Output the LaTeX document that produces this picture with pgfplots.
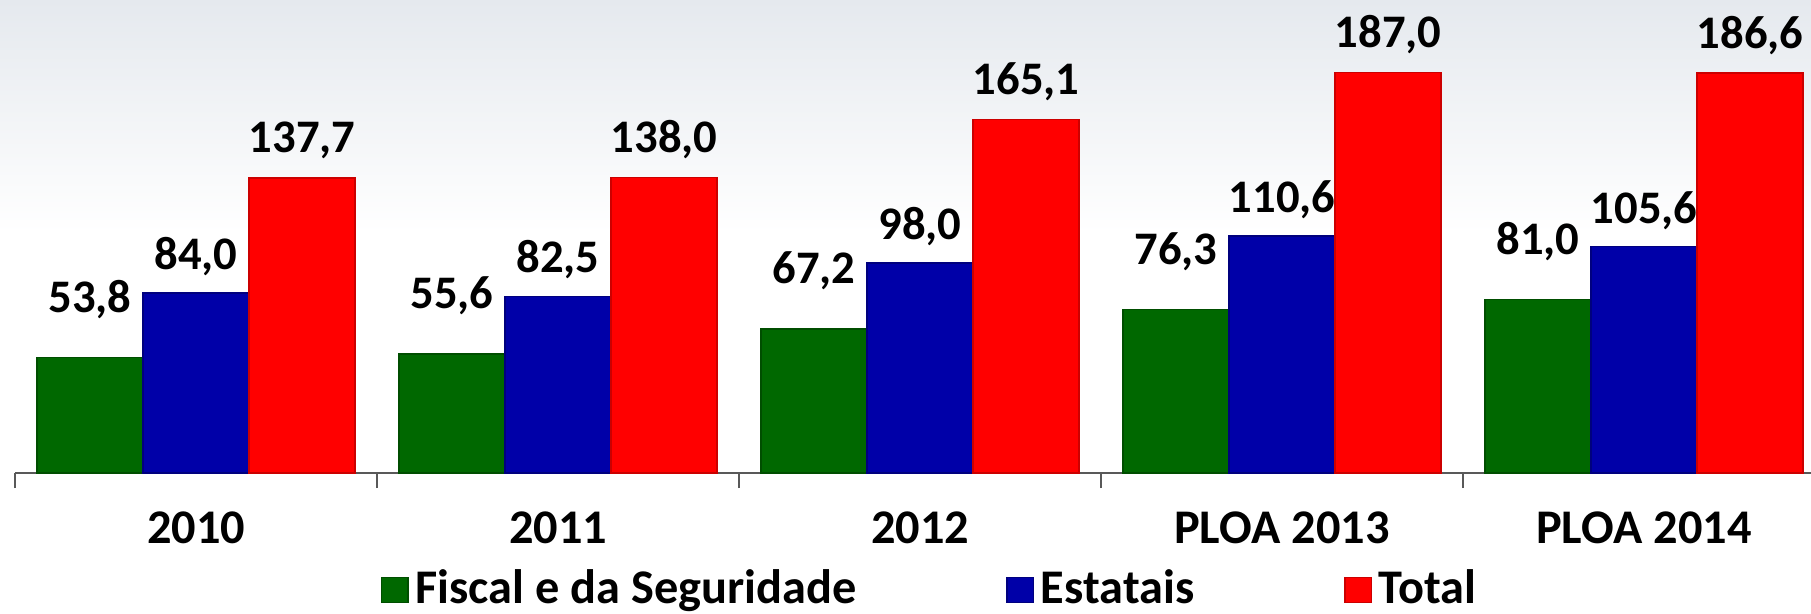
\documentclass[border=0pt]{standalone}
\usepackage{pgfplots}
\pgfplotsset{compat=1.18}
\usepackage{fontspec}
\setmainfont{Carlito}

\definecolor{fiscal}{RGB}{0,104,0}
\definecolor{estatais}{RGB}{0,0,168}
\definecolor{total}{RGB}{255,0,0}
\definecolor{bgtop}{RGB}{229,233,238}

\begin{document}
\begin{tikzpicture}
\useasboundingbox (-4.5bp,-42bp) rectangle (538.8bp,141.9bp);
\clip (-4.5bp,-42bp) rectangle (538.8bp,141.9bp);
\shade[top color=bgtop, bottom color=white] (-4.5bp,72bp) rectangle (538.8bp,141.9bp);
\begin{axis}[
    at={(0,0)}, anchor=south west,
    scale only axis, width=543bp, height=141.9bp,
    xmin=-0.5, xmax=4.5, ymin=0, ymax=220.7,
    enlargelimits=false,
    ybar, bar width=31.8bp,
    axis x line=bottom, axis y line=none,
    x axis line style={-, draw=black!65, line width=0.8bp},
    xtick={0,...,4},
    xticklabels={2010,2011,2012,PLOA 2013,PLOA 2014},
    major tick length=0pt,
    minor xtick={-0.5,0.5,...,4.5},
    minor tick length=4.5bp,
    tick align=outside,
    minor tick style={draw=black!65, line width=0.8bp},
    xticklabel style={font=\bfseries\fontsize{14.5bp}{16bp}\selectfont, yshift=-8bp},
    nodes near coords,
    every node near coord/.append style={font=\bfseries\fontsize{14bp}{16bp}\selectfont,
        anchor=base, inner sep=0pt, text=black},
    /pgf/number format/assume math mode=true,
    /pgf/number format/fixed,
    /pgf/number format/fixed zerofill,
    /pgf/number format/precision=1,
    /pgf/number format/use comma,
    legend columns=3,
    legend style={at={(0.5066,-0.246)}, anchor=center, draw=none, fill=none,
        font=\bfseries\fontsize{14.5bp}{16bp}\selectfont,
        /tikz/every even column/.append style={column sep=43bp}},
    legend image code/.code={\draw[#1] (0bp,-4bp) rectangle (8bp,3.5bp);},
]
% Fiscal e da Seguridade
\addplot[fill=fiscal, draw=fiscal!75!black, bar shift=-31.8bp,
    every node near coord/.append style={yshift=13.5bp}] coordinates {
    (0,53.8) (1,55.6) (2,67.2) (3,76.3) (4,81.0)
};
\addlegendentry{Fiscal e da Seguridade}
% Estatais
\addplot[fill=estatais, draw=estatais!75!black, bar shift=0bp,
    every node near coord/.append style={yshift=7bp}] coordinates {
    (0,84.0) (1,82.5) (2,98.0) (3,110.6) (4,105.6)
};
\addlegendentry{Estatais}
% Total
\addplot[fill=total, draw=total!80!black, bar shift=31.8bp,
    every node near coord/.append style={yshift=7.5bp}] coordinates {
    (0,137.7) (1,138.0) (2,165.1) (3,187.0) (4,186.6)
};
\addlegendentry{Total}
\end{axis}
\end{tikzpicture}
\end{document}
